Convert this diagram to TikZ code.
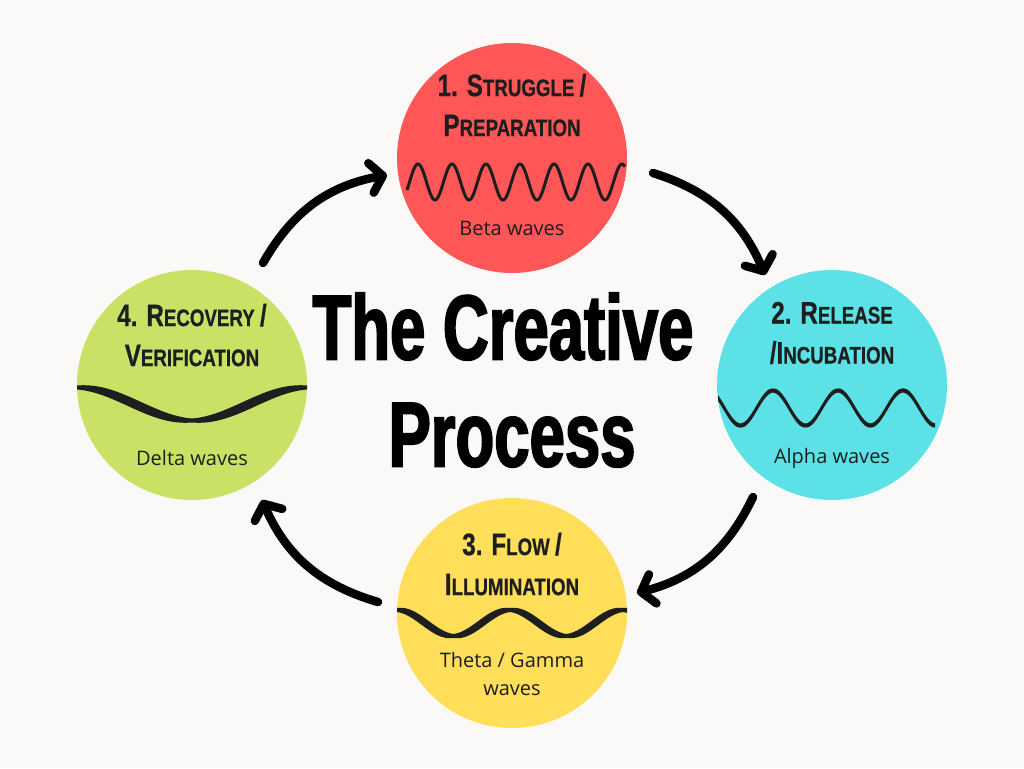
\documentclass[tikz,border=0pt]{standalone}
\usepackage{fontspec}
\setmainfont{Open Sans}
\newfontfamily\titlefont[FakeStretch=0.69,FakeBold=2]{Liberation Sans}
\newfontfamily\headfont[FakeStretch=0.78,FakeBold=0.6]{Liberation Sans}
\usetikzlibrary{arrows.meta,calc,positioning}

\definecolor{paper}{HTML}{FAF9F7}
\definecolor{ink}{HTML}{1E1E1E}
\definecolor{redstage}{HTML}{FF5757}
\definecolor{cyanstage}{HTML}{5CE1E6}
\definecolor{yellowstage}{HTML}{FFDE59}
\definecolor{greenstage}{HTML}{C9E265}

% big letters inside the small-caps headings
\newcommand\bg[1]{{\fontsize{31}{40}\selectfont #1}}
% ribbon wave: x from, x to, mid y, amplitude, period, crest x, thickness, swell
\newcommand\ribbon[8]{%
  \fill[ink] plot[domain=#1:#2,samples=120,smooth]
    (\x,{#3-#4*cos(((\x-#6)/#5)*360)-0.5*#7-0.5*#8*abs(sin(((\x-#6)/#5)*360))})
    -- plot[domain=#2:#1,samples=120,smooth]
    (\x,{#3-#4*cos(((\x-#6)/#5)*360)+0.5*#7+0.5*#8*abs(sin(((\x-#6)/#5)*360))})
    -- cycle;}

\tikzset{
  stage/.style={circle,minimum size=230pt,inner sep=0pt},
  head/.style={font=\headfont\bfseries\fontsize{24}{40}\selectfont,
    align=center,text=ink,inner sep=0pt},
  caption/.style={font=\fontsize{20}{28}\selectfont,align=center,
    text=ink,inner sep=0pt},
  flow/.style={line width=8.5pt,line cap=round,
    -{Straight Barb[length=12pt,width=30pt,round]}}
}

\begin{document}
\begin{tikzpicture}[x=1pt,y=-1pt]
\useasboundingbox (0,0) rectangle (1024,768);
\fill[paper] (0,0) rectangle (1024,768);

% the four stages
\node[stage,fill=redstage] (red) at (512,158) {};
\node[stage,fill=cyanstage] (cyan) at (832,385) {};
\node[stage,fill=yellowstage] (yellow) at (512,613) {};
\node[stage,fill=greenstage] (green) at (192,385) {};

% headings
\node[head] (h1) at ($(red)+(0,-53)$) {\bg{1. S}TRUGGLE \bg{/}\\\bg{P}REPARATION};
\node[head] (h2) at ($(cyan)+(0,-52)$) {\bg{2. R}ELEASE\\\bg{/I}NCUBATION};
\node[head] (h3) at ($(yellow)+(0,-49)$) {\bg{3. F}LOW \bg{/}\\\bg{I}LLUMINATION};
\node[head] (h4) at ($(green)+(0,-50)$) {\bg{4. R}ECOVERY \bg{/}\\\bg{V}ERIFICATION};

% waves
\draw[ink,line width=3pt] plot[domain=407:625,samples=220,smooth]
  (\x,{182-18*cos(((\x-418)/34)*360)});
\ribbon{718}{935}{408}{17.5}{65}{708}{4}{2}
\ribbon{397}{627}{623}{13}{113}{397}{4}{5}
\ribbon{77}{307}{404}{16.5}{230}{77}{4}{6}

% wave names
\node[caption] (c1) at ($(red)+(0,70)$) {Beta waves};
\node[caption] (c2) at ($(cyan)+(0,73)$) {Alpha waves};
\node[caption] (c3) at ($(yellow)+(0,61)$) {Theta / Gamma\\waves};
\node[caption] (c4) at ($(green)+(0,73)$) {Delta waves};

% title
\node[font=\titlefont\bfseries\fontsize{92}{107}\selectfont,align=center,
  inner sep=0pt] (title) at (503,380) {The Creative\\\hspace*{18pt}Process};

% cycle arrows
\coordinate (s1) at (263,263); \coordinate (e1) at (387,175);
\coordinate (s2) at (653,173); \coordinate (e2) at (765,275);
\coordinate (s3) at (753,497); \coordinate (e3) at (637,593);
\coordinate (s4) at (378,602); \coordinate (e4) at (262,500);
\draw[flow] (s1) to[bend left=25] (e1);
\draw[flow] (s2) to[bend left=25] (e2);
\draw[flow] (s3) to[bend left=25] (e3);
\draw[flow] (s4) to[bend left=25] (e4);
\end{tikzpicture}
\end{document}
